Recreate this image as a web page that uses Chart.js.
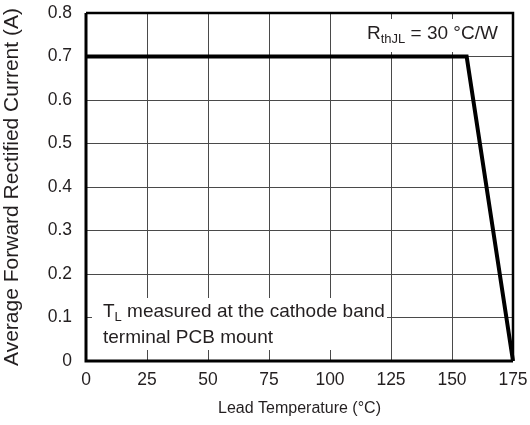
<!DOCTYPE html>
<html>
<head>
<meta charset="utf-8">
<script src="https://cdn.jsdelivr.net/npm/chart.js@4"></script>
<style>
html,body{margin:0;padding:0;background:#fff;}
#wrap{width:530px;height:425px;position:relative;}
</style>
</head>
<body>
<div id="wrap"><canvas id="c"></canvas></div>
<script>
// Data
const leadTemp = [0, 156, 175];
const current = [0.7, 0.7, 0];
const xTicks = [0, 25, 50, 75, 100, 125, 150, 175];
const yTicks = [0, 0.1, 0.2, 0.3, 0.4, 0.5, 0.6, 0.7, 0.8];
const xTitle = 'Lead Temperature (°C)';
const yTitle = 'Average Forward Rectified Current (A)';
const noteTL = ['T', 'L', ' measured at the cathode band', 'terminal PCB mount'];
const noteR = ['R', 'thJL', ' = 30 °C/W'];

const FONT = '"Liberation Sans", Arial, Helvetica, sans-serif';

function subText(ctx, parts, x, y, big, small) {
  ctx.font = big + 'px ' + FONT;
  ctx.fillText(parts[0], x, y);
  x += ctx.measureText(parts[0]).width;
  ctx.font = small + 'px ' + FONT;
  ctx.fillText(parts[1], x, y + 4);
  x += ctx.measureText(parts[1]).width;
  ctx.font = big + 'px ' + FONT;
  ctx.fillText(parts[2], x, y);
}

const notes = {
  id: 'notes',
  beforeDatasetsDraw(chart) {
    const ctx = chart.ctx, a = chart.chartArea;
    ctx.save();
    ctx.fillStyle = '#fff';
    // TL box
    ctx.fillRect(a.left + 6, a.bottom - 63, 295, 52);
    // R box
    ctx.fillRect(a.left + 269, a.top + 6, a.right - a.left - 271, 33);
    ctx.fillStyle = '#231f20';
    ctx.textBaseline = 'alphabetic';
    ctx.textAlign = 'left';
    subText(ctx, noteTL, a.left + 17, a.bottom - 44, 19, 13);
    ctx.font = '19px ' + FONT;
    ctx.fillText(noteTL[3], a.left + 17, a.bottom - 18);
    subText(ctx, noteR, a.left + 281, a.top + 26, 19, 13);
    ctx.restore();
  },
  afterDatasetsDraw(chart) {
    const ctx = chart.ctx, a = chart.chartArea;
    ctx.save();
    ctx.strokeStyle = '#000';
    ctx.lineWidth = 2.5;
    ctx.beginPath();
    ctx.moveTo(a.left, a.top); ctx.lineTo(a.right, a.top);
    ctx.lineTo(a.right, a.bottom);
    ctx.stroke();
    ctx.lineWidth = 3;
    ctx.beginPath();
    ctx.moveTo(a.left, a.top); ctx.lineTo(a.left, a.bottom); ctx.lineTo(a.right, a.bottom);
    ctx.stroke();
    ctx.restore();
  }
};

new Chart(document.getElementById('c'), {
  type: 'line',
  data: {
    datasets: [{
      data: leadTemp.map((t, i) => ({x: t, y: current[i]})),
      borderColor: '#000',
      borderWidth: 4,
      pointRadius: 0,
      tension: 0,
      fill: false,
      clip: false
    }]
  },
  options: {
    responsive: true,
    maintainAspectRatio: false,
    animation: false,
    devicePixelRatio: 1,
    layout: {padding: {top: 13, right: 17, left: 0, bottom: 0}},
    plugins: {legend: {display: false}, tooltip: {enabled: false}},
    scales: {
      x: {
        type: 'linear', min: 0, max: 175,
        afterBuildTicks: s => { s.ticks = xTicks.map(v => ({value: v})); },
        afterFit: s => { s.height = 64; s.paddingLeft = 0; s.paddingRight = 0; },
        grid: {color: '#4a4a4a', lineWidth: 1, tickLength: 0},
        border: {display: false},
        ticks: {color: '#231f20', font: {family: FONT, size: 17.5}, padding: 9, maxRotation: 0},
        title: {display: true, text: xTitle, color: '#231f20', font: {family: FONT, size: 16}, padding: {top: 4, bottom: 7}}
      },
      y: {
        type: 'linear', min: 0, max: 0.8,
        afterBuildTicks: s => { s.ticks = yTicks.map(v => ({value: v})); },
        afterFit: s => { s.width = 86; s.paddingTop = 0; s.paddingBottom = 0; },
        grid: {color: '#4a4a4a', lineWidth: 1, tickLength: 0},
        border: {display: false},
        ticks: {color: '#231f20', font: {family: FONT, size: 17.5}, padding: 14,
          callback: v => (v === 0 ? '0' : v.toFixed(1))},
        title: {display: true, text: yTitle, color: '#231f20', font: {family: FONT, size: 21}, padding: {top: 0, bottom: 0}}
      }
    }
  },
  plugins: [notes]
});
</script>
</body>
</html>
